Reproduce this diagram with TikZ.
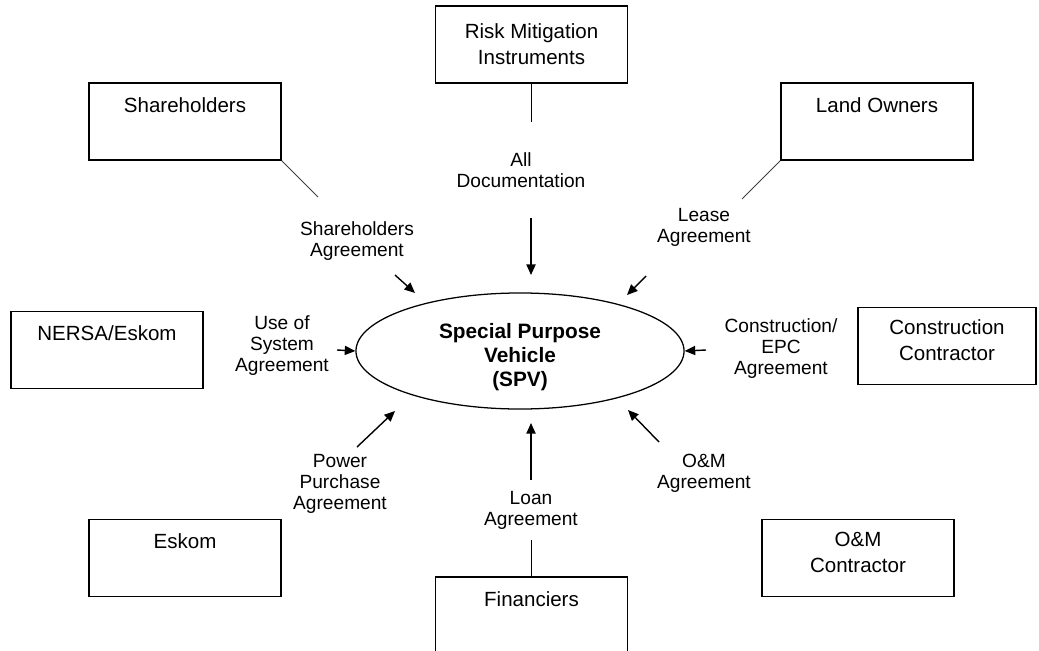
\documentclass[tikz,border=0pt]{standalone}
\usepackage{fontspec}
\setmainfont{Liberation Sans}
\usetikzlibrary{shapes.geometric, arrows.meta, positioning, calc}

\tikzset{
  party/.style={draw, line width=1.1pt, minimum width=4.8cm, minimum height=1.925cm,
    align=center, inner sep=0pt, font=\fontsize{14.6}{18.5}\selectfont},
  deal/.style={align=center, inner sep=0pt, font=\fontsize{13.6}{14.9}\selectfont},
  link/.style={line width=0.7pt, draw=black!75},
  flow/.style={line width=1pt, -{Triangle[length=7.5pt, width=6.5pt]}}
}

\begin{document}
\begin{tikzpicture}[x=0.025cm, y=-0.025cm]
  \useasboundingbox (0,0) rectangle (1039,651);

  % The SPV in the middle
  \node[draw, ellipse, line width=0.9pt, minimum width=8.2cm, minimum height=2.9cm,
    align=center, inner sep=0pt, font=\bfseries\fontsize{14.8}{17}\selectfont]
    (spv) at (520,351) {\rule{0pt}{19pt}Special Purpose\\Vehicle\\(SPV)};

  % Parties round it
  \node[party] (risk) at (531.5,44.5) {Risk Mitigation\\Instruments};
  \node[party] (share) at (185,121.5) {Shareholders\\\strut};
  \node[party] (land) at (877,121.5) {Land Owners\\\strut};
  \node[party] (nersa) at (107,350) {NERSA/Eskom\\\strut};
  \node[party, minimum width=4.45cm, text depth=8pt] (constr) at (947,346) {Construction\\Contractor};
  \node[party] (eskom) at (185,558) {Eskom\\\strut};
  \node[party, text depth=8pt] (om) at (858,558) {O\&M\\Contractor};
  \node[party] (fin) at (531.5,615.5) {Financiers\\\strut};

  % Agreements
  \node[deal] (docLbl) at (521,170) {All\\Documentation};
  \node[deal] (shLbl) at (357,241) {Shareholders\\Agreement};
  \node[deal] (leaseLbl) at (704,227) {Lease\\Agreement};
  \node[deal] (sysLbl) at (282,346) {Use of\\System\\Agreement};
  \node[deal] (epcLbl) at (781,349) {Construction/\\EPC\\Agreement};
  \node[deal] (ppaLbl) at (340,484) {Power\\Purchase\\Agreement};
  \node[deal] (loanLbl) at (531,510) {Loan\\Agreement};
  \node[deal] (omLbl) at (704,473) {O\&M\\Agreement};

  % Free ends of the lines
  \coordinate (docEnd) at (531.5,122);
  \coordinate (shEnd) at (318,197);
  \coordinate (leaseEnd) at (742,199);
  \coordinate (loanEnd) at (531.5,540);

  % Free ends of the arrows
  \coordinate (docTail) at (531,218);
  \coordinate (docTip) at (531,275);
  \coordinate (shTail) at (395,275);
  \coordinate (shTip) at (415,293);
  \coordinate (leaseTail) at (646,276);
  \coordinate (leaseTip) at (627,295);
  \coordinate (sysTail) at (337,350);
  \coordinate (epcTail) at (706,350);
  \coordinate (ppaTail) at (357,447);
  \coordinate (ppaTip) at (395,411);
  \coordinate (loanTail) at (531,480);
  \coordinate (loanTip) at (531,423);
  \coordinate (omTail) at (659,442);
  \coordinate (omTip) at (628,410);

  % Lines from the boxes
  \draw[link, draw=black] (risk.south) -- (docEnd);
  \draw[link] (share.south east) -- (shEnd);
  \draw[link] (land.south west) -- (leaseEnd);
  \draw[link, draw=black] (fin.north) -- (loanEnd);

  % Arrows into the SPV
  \draw[flow] (docTail) -- (docTip);
  \draw[flow] (shTail) -- (shTip);
  \draw[flow] (leaseTail) -- (leaseTip);
  \draw[flow] (sysTail) -- (spv.west);
  \draw[flow] (epcTail) -- (spv.east);
  \draw[flow] (ppaTail) -- (ppaTip);
  \draw[flow] (loanTail) -- (loanTip);
  \draw[flow] (omTail) -- (omTip);

\end{tikzpicture}
\end{document}
